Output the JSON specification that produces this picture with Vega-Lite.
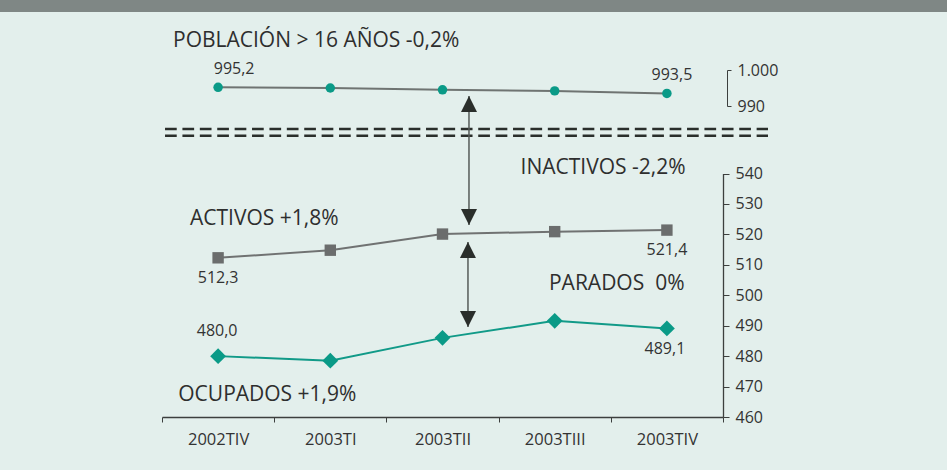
{
  "$schema": "https://vega.github.io/schema/vega-lite/v6.json",
  "background": "#e3efec",
  "padding": 0,
  "spacing": 0,
  "config": {
    "font": "Open Sans",
    "view": {"stroke": null},
    "axis": {"grid": false},
    "locale": {"number": {"decimal": ",", "thousands": ".", "grouping": [3], "currency": ["", " €"]}}
  },
  "datasets": {
    "pob": [
      {"q": "2002TIV", "v": 995.2}, {"q": "2003TI", "v": 995.0}, {"q": "2003TII", "v": 994.5}, {"q": "2003TIII", "v": 994.2}, {"q": "2003TIV", "v": 993.5}
    ],
    "act": [
      {"q": "2002TIV", "v": 512.3}, {"q": "2003TI", "v": 514.8}, {"q": "2003TII", "v": 520.1}, {"q": "2003TIII", "v": 520.9}, {"q": "2003TIV", "v": 521.4}
    ],
    "ocu": [
      {"q": "2002TIV", "v": 480.0}, {"q": "2003TI", "v": 478.5}, {"q": "2003TII", "v": 486.0}, {"q": "2003TIII", "v": 491.6}, {"q": "2003TIV", "v": 489.1}
    ],
    "titles": [
      {"t": "POBLACIÓN > 16 AÑOS -0,2%", "c": 0.098, "v": 583.5},
      {"t": "INACTIVOS -2,2%", "c": 3.196, "v": 541.9},
      {"t": "ACTIVOS +1,8%", "c": 0.25, "v": 525.1},
      {"t": "PARADOS \u00a00%", "c": 3.449, "v": 503.6},
      {"t": "OCUPADOS +1,9%", "c": 0.145, "v": 467.3}
    ],
    "arrows": [
      {"c": 2.736, "top": 565.5, "bot": 523.1},
      {"c": 2.727, "top": 517.5, "bot": 489.6}
    ],
    "dashes": [
      {"c0": 0.027, "c1": 5.401, "v": 554.6},
      {"c0": 0.027, "c1": 5.401, "v": 552.4}
    ]
  },
  "vconcat": [
    {
      "width": 947,
      "height": 12,
      "view": {"fill": "#7f8785", "stroke": null},
      "data": {"values": [{"t": ""}]},
      "mark": {"type": "text"},
      "encoding": {"text": {"field": "t"}}
    },
    {
      "width": 723,
      "height": 458,
      "resolve": {"scale": {"x": "independent", "y": "independent"}, "axis": {"x": "independent", "y": "independent"}},
      "layer": [
        {
          "data": {"name": "pob"},
          "mark": {"type": "line", "color": "#6f7472", "strokeWidth": 2},
          "encoding": {
            "x": {"field": "q", "type": "ordinal", "axis": null, "scale": {"type": "band", "domain": ["2002TIV", "2003TI", "2003TII", "2003TIII", "2003TIV"], "range": [162, 723], "paddingInner": 0, "paddingOuter": 0}},
            "y": {"field": "v", "type": "quantitative", "scale": {"domain": [990, 1000], "range": [94, 58], "zero": false, "nice": false},
              "axis": {"orient": "right", "offset": 4, "values": [990, 1000], "format": ",.0f", "tickSize": 4, "labelPadding": 6, "labelFontSize": 16, "labelColor": "#333333", "domainColor": "#3c3f3e", "tickColor": "#3c3f3e", "title": null, "labelFlush": false, "labelOverlap": false}}
          }
        },
        {
          "data": {"name": "pob"},
          "mark": {"type": "point", "shape": "circle", "filled": true, "size": 90, "color": "#0a9a87", "opacity": 1},
          "encoding": {
            "x": {"field": "q", "type": "ordinal", "axis": null, "scale": {"type": "band", "domain": ["2002TIV", "2003TI", "2003TII", "2003TIII", "2003TIV"], "range": [162, 723], "paddingInner": 0, "paddingOuter": 0}},
            "y": {"field": "v", "type": "quantitative", "axis": null, "scale": {"domain": [990, 1000], "range": [94, 58], "zero": false, "nice": false}}
          }
        },
        {
          "data": {"name": "act"},
          "mark": {"type": "line", "color": "#707272", "strokeWidth": 2},
          "encoding": {
            "x": {"field": "q", "type": "ordinal", "scale": {"type": "band", "domain": ["2002TIV", "2003TI", "2003TII", "2003TIII", "2003TIV"], "range": [162, 723], "paddingInner": 0, "paddingOuter": 0},
              "axis": {"orient": "bottom", "offset": -53, "tickBand": "extent", "tickSize": 5, "tickColor": "#3c3f3e", "domainColor": "#3c3f3e", "domainWidth": 1.3, "labelFontSize": 16.5, "labelColor": "#333333", "labelPadding": 9, "labelAngle": 0, "title": null}},
            "y": {"field": "v", "type": "quantitative", "scale": {"domain": [460, 540], "range": [405, 161.5], "zero": false, "nice": false},
              "axis": {"orient": "right", "values": [460, 470, 480, 490, 500, 510, 520, 530, 540], "tickSize": 6, "labelPadding": 6, "labelFontSize": 16, "labelColor": "#333333", "domainColor": "#3c3f3e", "domainWidth": 1.3, "tickColor": "#3c3f3e", "title": null, "labelFlush": false, "labelOverlap": false}}
          }
        },
        {
          "data": {"name": "act"},
          "mark": {"type": "point", "shape": "square", "filled": true, "size": 130, "color": "#6b6d6d", "opacity": 1},
          "encoding": {
            "x": {"field": "q", "type": "ordinal", "axis": null, "scale": {"type": "band", "domain": ["2002TIV", "2003TI", "2003TII", "2003TIII", "2003TIV"], "range": [162, 723], "paddingInner": 0, "paddingOuter": 0}},
            "y": {"field": "v", "type": "quantitative", "axis": null, "scale": {"domain": [460, 540], "range": [405, 161.5], "zero": false, "nice": false}}
          }
        },
        {
          "data": {"name": "ocu"},
          "mark": {"type": "line", "color": "#119a88", "strokeWidth": 2},
          "encoding": {
            "x": {"field": "q", "type": "ordinal", "axis": null, "scale": {"type": "band", "domain": ["2002TIV", "2003TI", "2003TII", "2003TIII", "2003TIV"], "range": [162, 723], "paddingInner": 0, "paddingOuter": 0}},
            "y": {"field": "v", "type": "quantitative", "axis": null, "scale": {"domain": [460, 540], "range": [405, 161.5], "zero": false, "nice": false}}
          }
        },
        {
          "data": {"name": "ocu"},
          "mark": {"type": "point", "shape": "diamond", "filled": true, "size": 250, "color": "#0a9a87", "opacity": 1},
          "encoding": {
            "x": {"field": "q", "type": "ordinal", "axis": null, "scale": {"type": "band", "domain": ["2002TIV", "2003TI", "2003TII", "2003TIII", "2003TIV"], "range": [162, 723], "paddingInner": 0, "paddingOuter": 0}},
            "y": {"field": "v", "type": "quantitative", "axis": null, "scale": {"domain": [460, 540], "range": [405, 161.5], "zero": false, "nice": false}}
          }
        },
        {
          "data": {"name": "pob"},
          "transform": [{"filter": "datum.q == '2002TIV'"}],
          "mark": {"type": "text", "fontSize": 16, "color": "#333333", "baseline": "middle", "align": "center", "dx": 16, "dy": -18},
          "encoding": {
            "x": {"field": "q", "type": "ordinal", "axis": null, "scale": {"type": "band", "domain": ["2002TIV", "2003TI", "2003TII", "2003TIII", "2003TIV"], "range": [162, 723], "paddingInner": 0, "paddingOuter": 0}},
            "y": {"field": "v", "type": "quantitative", "axis": null, "scale": {"domain": [990, 1000], "range": [94, 58], "zero": false, "nice": false}},
            "text": {"field": "v", "type": "quantitative", "format": ",.1f"}
          }
        },
        {
          "data": {"name": "pob"},
          "transform": [{"filter": "datum.q == '2003TIV'"}],
          "mark": {"type": "text", "fontSize": 16, "color": "#333333", "baseline": "middle", "align": "center", "dx": 5, "dy": -18},
          "encoding": {
            "x": {"field": "q", "type": "ordinal", "axis": null, "scale": {"type": "band", "domain": ["2002TIV", "2003TI", "2003TII", "2003TIII", "2003TIV"], "range": [162, 723], "paddingInner": 0, "paddingOuter": 0}},
            "y": {"field": "v", "type": "quantitative", "axis": null, "scale": {"domain": [990, 1000], "range": [94, 58], "zero": false, "nice": false}},
            "text": {"field": "v", "type": "quantitative", "format": ",.1f"}
          }
        },
        {
          "data": {"name": "act"},
          "transform": [{"filter": "datum.q == '2002TIV' || datum.q == '2003TIV'"}],
          "mark": {"type": "text", "fontSize": 16, "color": "#333333", "baseline": "middle", "align": "center", "dx": 0, "dy": 20},
          "encoding": {
            "x": {"field": "q", "type": "ordinal", "axis": null, "scale": {"type": "band", "domain": ["2002TIV", "2003TI", "2003TII", "2003TIII", "2003TIV"], "range": [162, 723], "paddingInner": 0, "paddingOuter": 0}},
            "y": {"field": "v", "type": "quantitative", "axis": null, "scale": {"domain": [460, 540], "range": [405, 161.5], "zero": false, "nice": false}},
            "text": {"field": "v", "type": "quantitative", "format": ",.1f"}
          }
        },
        {
          "data": {"name": "ocu"},
          "transform": [{"filter": "datum.q == '2002TIV'"}],
          "mark": {"type": "text", "fontSize": 16, "color": "#333333", "baseline": "middle", "align": "center", "dx": -1, "dy": -25},
          "encoding": {
            "x": {"field": "q", "type": "ordinal", "axis": null, "scale": {"type": "band", "domain": ["2002TIV", "2003TI", "2003TII", "2003TIII", "2003TIV"], "range": [162, 723], "paddingInner": 0, "paddingOuter": 0}},
            "y": {"field": "v", "type": "quantitative", "axis": null, "scale": {"domain": [460, 540], "range": [405, 161.5], "zero": false, "nice": false}},
            "text": {"field": "v", "type": "quantitative", "format": ",.1f"}
          }
        },
        {
          "data": {"name": "ocu"},
          "transform": [{"filter": "datum.q == '2003TIV'"}],
          "mark": {"type": "text", "fontSize": 16, "color": "#333333", "baseline": "middle", "align": "center", "dx": -2, "dy": 21},
          "encoding": {
            "x": {"field": "q", "type": "ordinal", "axis": null, "scale": {"type": "band", "domain": ["2002TIV", "2003TI", "2003TII", "2003TIII", "2003TIV"], "range": [162, 723], "paddingInner": 0, "paddingOuter": 0}},
            "y": {"field": "v", "type": "quantitative", "axis": null, "scale": {"domain": [460, 540], "range": [405, 161.5], "zero": false, "nice": false}},
            "text": {"field": "v", "type": "quantitative", "format": ",.1f"}
          }
        },
        {
          "data": {"name": "titles"},
          "mark": {"type": "text", "fontSize": 21, "color": "#2e2e2e", "baseline": "middle", "align": "left"},
          "encoding": {
            "x": {"field": "c", "type": "quantitative", "axis": null, "scale": {"domain": [0, 5], "range": [162, 723], "zero": false, "nice": false}},
            "y": {"field": "v", "type": "quantitative", "axis": null, "scale": {"domain": [460, 540], "range": [405, 161.5], "zero": false, "nice": false}},
            "text": {"field": "t"}
          }
        },
        {
          "data": {"name": "dashes"},
          "mark": {"type": "rule", "color": "#2a2e2b", "strokeWidth": 2.5, "strokeDash": [11.7, 5.7]},
          "encoding": {
            "x": {"field": "c0", "type": "quantitative", "axis": null, "scale": {"domain": [0, 5], "range": [162, 723], "zero": false, "nice": false}},
            "x2": {"field": "c1"},
            "y": {"field": "v", "type": "quantitative", "axis": null, "scale": {"domain": [460, 540], "range": [405, 161.5], "zero": false, "nice": false}}
          }
        },
        {
          "data": {"name": "arrows"},
          "mark": {"type": "rule", "color": "#565b59", "strokeWidth": 1.5},
          "encoding": {
            "x": {"field": "c", "type": "quantitative", "axis": null, "scale": {"domain": [0, 5], "range": [162, 723], "zero": false, "nice": false}},
            "y": {"field": "top", "type": "quantitative", "axis": null, "scale": {"domain": [460, 540], "range": [405, 161.5], "zero": false, "nice": false}},
            "y2": {"field": "bot"}
          }
        },
        {
          "data": {"name": "arrows"},
          "mark": {"type": "point", "shape": "M0,0L-1,2L1,2Z", "filled": true, "size": 256, "color": "#2a2e2b", "opacity": 1},
          "encoding": {
            "x": {"field": "c", "type": "quantitative", "axis": null, "scale": {"domain": [0, 5], "range": [162, 723], "zero": false, "nice": false}},
            "y": {"field": "top", "type": "quantitative", "axis": null, "scale": {"domain": [460, 540], "range": [405, 161.5], "zero": false, "nice": false}}
          }
        },
        {
          "data": {"name": "arrows"},
          "mark": {"type": "point", "shape": "M0,0L-1,-2L1,-2Z", "filled": true, "size": 256, "color": "#2a2e2b", "opacity": 1},
          "encoding": {
            "x": {"field": "c", "type": "quantitative", "axis": null, "scale": {"domain": [0, 5], "range": [162, 723], "zero": false, "nice": false}},
            "y": {"field": "bot", "type": "quantitative", "axis": null, "scale": {"domain": [460, 540], "range": [405, 161.5], "zero": false, "nice": false}}
          }
        }
      ]
    }
  ]
}
